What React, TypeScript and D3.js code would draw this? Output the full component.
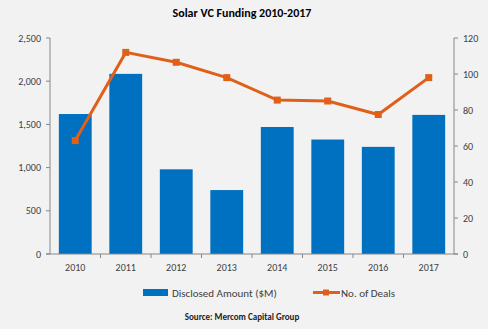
import React from "react";
import * as d3 from "d3";

const years = ["2010", "2011", "2012", "2013", "2014", "2015", "2016", "2017"];
const amounts = [1620, 2085, 980, 740, 1470, 1325, 1240, 1610];
const deals = [63, 112, 106.5, 98, 85.5, 85, 77.5, 98];
const leftTicks = [0, 500, 1000, 1500, 2000, 2500];
const rightTicks = [0, 20, 40, 60, 80, 100, 120];

const W = 494, H = 335;
const left = 50, right = 454, top = 38, bottom = 254;
const font = "Carlito, Lato, 'Open Sans', 'Liberation Sans', sans-serif";

export default function App() {
  const x = d3.scaleBand<string>().domain(years).range([left, right]).paddingInner(0.35).paddingOuter(0.175);
  const xb = d3.scaleBand<string>().domain(years).range([left, right]);
  const yL = d3.scaleLinear().domain([0, 2500]).range([bottom, top]);
  const yR = d3.scaleLinear().domain([0, 120]).range([bottom, top]);
  const line = d3.line<number>().x((_, i) => (xb(years[i]) as number) + xb.bandwidth() / 2).y((d) => yR(d));
  const axisCol = "#868686";
  const txt = "#404040";
  return (
    <svg width={W} height={H} style={{ position: "absolute", left: 0, top: 0 }} fontFamily={font}>
      <rect x={0} y={0} width={488} height={329} fill="#f2f2f2" />
      <text x={242} y={17} textAnchor="middle" fontSize={12} fontWeight="bold" fill="#000">Solar VC Funding 2010-2017</text>
      {years.map((yr, i) => (
        <rect key={yr} x={x(yr)} y={yL(amounts[i])} width={x.bandwidth()} height={bottom - yL(amounts[i])} fill="#0070C0" />
      ))}
      <line x1={left} x2={left} y1={top} y2={bottom} stroke={axisCol} />
      <line x1={right} x2={right} y1={top} y2={bottom} stroke={axisCol} />
      <line x1={left - 4} x2={right + 4} y1={bottom} y2={bottom} stroke={axisCol} />
      {leftTicks.map((t) => (
        <g key={t}>
          <line x1={left - 4} x2={left} y1={yL(t)} y2={yL(t)} stroke={axisCol} />
          <text x={41} y={yL(t) + 3.5} textAnchor="end" fontSize={10} fill={txt}>{d3.format(",")(t)}</text>
        </g>
      ))}
      {rightTicks.map((t) => (
        <g key={t}>
          <line x1={right} x2={right + 4} y1={yR(t)} y2={yR(t)} stroke={axisCol} />
          <text x={463} y={yR(t) + 3.5} textAnchor="start" fontSize={10} fill={txt}>{t}</text>
        </g>
      ))}
      {years.map((yr, i) => (
        <g key={yr}>
          {i > 0 && <line x1={xb(yr)} x2={xb(yr)} y1={bottom} y2={bottom + 4} stroke={axisCol} />}
          <text x={(xb(yr) as number) + xb.bandwidth() / 2} y={bottom + 17} textAnchor="middle" fontSize={10} fill={txt}>{yr}</text>
        </g>
      ))}
      <path d={line(deals) as string} fill="none" stroke="#E0601A" strokeWidth={3} />
      {deals.map((d, i) => (
        <rect key={i} x={(xb(years[i]) as number) + xb.bandwidth() / 2 - 3.5} y={yR(d) - 3.5} width={7} height={7} fill="#E0601A" />
      ))}
      <rect x={143} y={289} width={25} height={7} fill="#0070C0" />
      <text x={172} y={296.5} fontSize={11} fill={txt}>Disclosed Amount ($M)</text>
      <line x1={313} x2={340} y1={292.5} y2={292.5} stroke="#E0601A" strokeWidth={3} />
      <rect x={323} y={289.5} width={6} height={6} fill="#E0601A" />
      <text x={341} y={296.5} fontSize={11} fill={txt}>No. of Deals</text>
      <text x={242} y={320} textAnchor="middle" fontSize={9} fontWeight="bold" fill="#222">Source: Mercom Capital Group</text>
    </svg>
  );
}
